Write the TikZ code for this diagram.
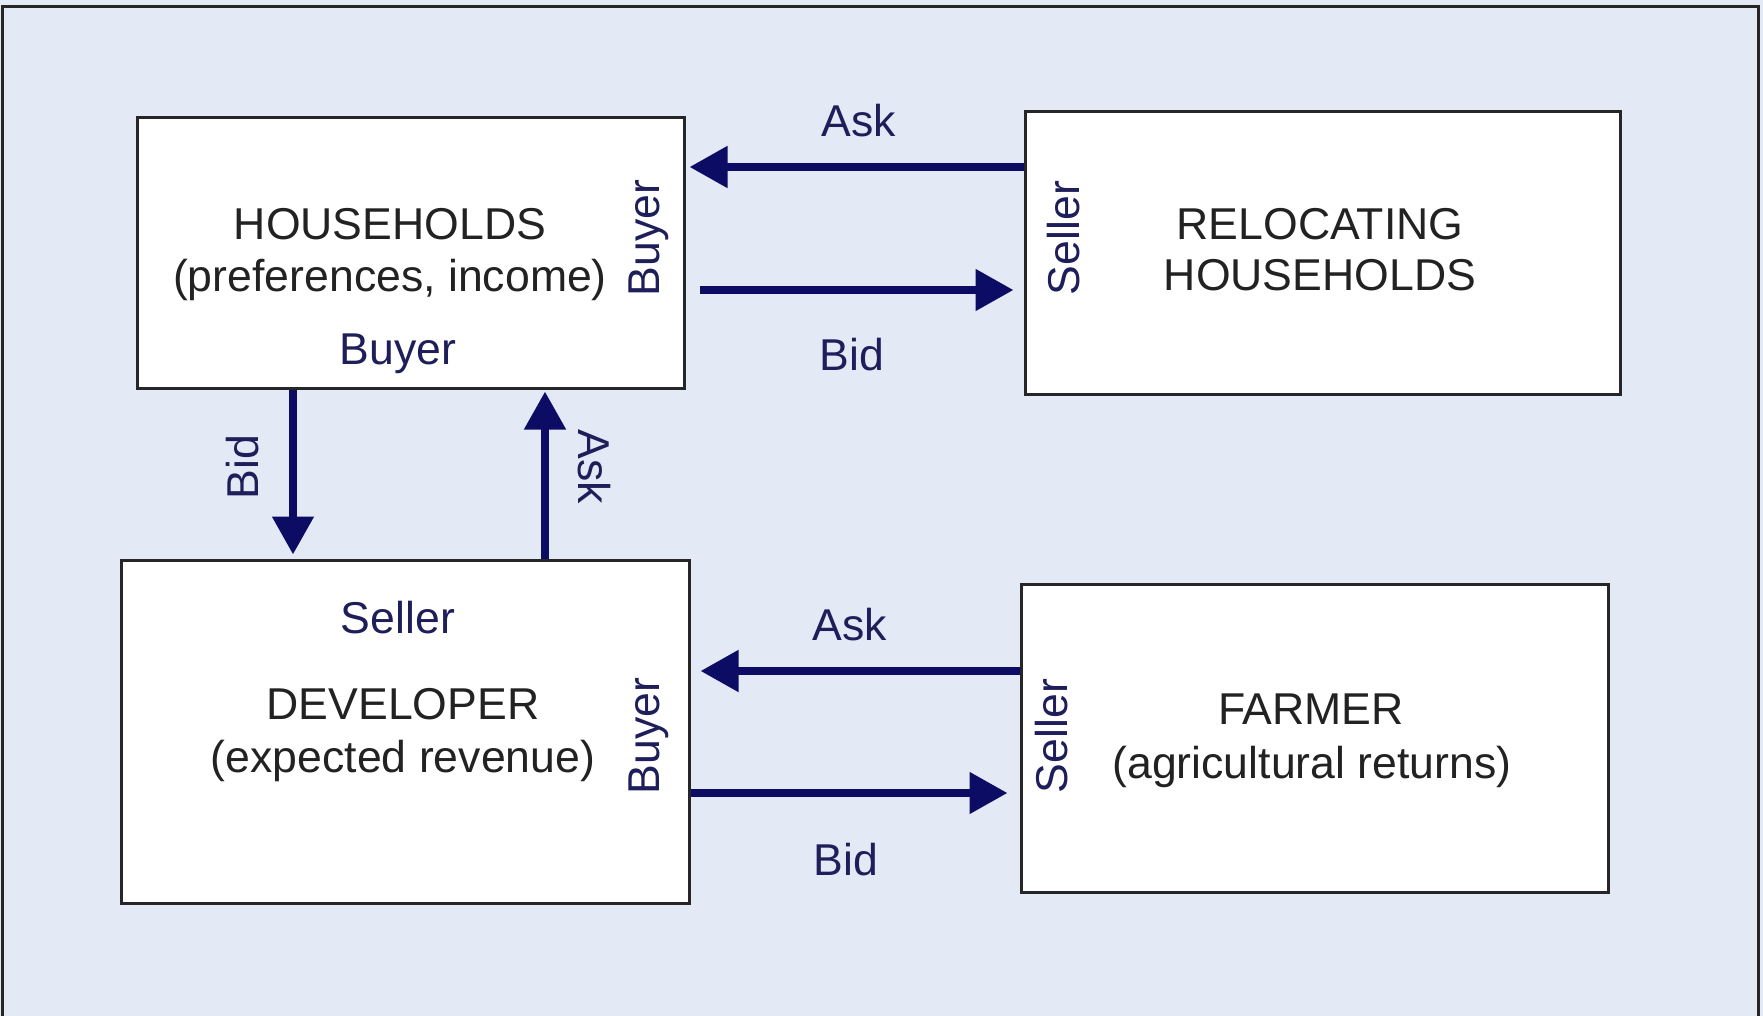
\documentclass[tikz,border=0pt]{standalone}
\usepackage{fontspec}
\setmainfont{Liberation Sans}
\usetikzlibrary{arrows.meta}
\definecolor{bgblue}{RGB}{228,233,246}
\definecolor{navy}{RGB}{12,12,100}
\definecolor{labnavy}{RGB}{30,30,90}
\definecolor{boxtext}{RGB}{34,34,34}
\begin{document}
\begin{tikzpicture}[x=1pt,y=-1pt,
  box/.style={draw=black!85,line width=3pt,fill=white,inner sep=0pt},
  main/.style={text=boxtext,font=\fontsize{44.6}{52}\selectfont,inner sep=0pt},
  lab/.style={text=labnavy,font=\fontsize{44.6}{52}\selectfont,inner sep=0pt},
  arr/.style={draw=navy,line width=8pt,-{Triangle[length=38pt,width=40pt]}}]
\useasboundingbox (0,0) rectangle (1763,1016);
\fill[bgblue] (0,0) rectangle (1763,1016);
\draw[black!85,line width=3pt] (2,1016) -- (2,7) -- (1758,7) -- (1758,1016);
% boxes
\node[box,minimum width=547pt,minimum height=270pt] (hh) at (410.5,253) {};
\node[box,minimum width=595pt,minimum height=282pt] (rel) at (1322.5,253) {};
\node[box,minimum width=568pt,minimum height=343pt] (dev) at (405,731.5) {};
\node[box,minimum width=587pt,minimum height=308pt] (farm) at (1314.5,738) {};
% texts
\node[main] (t1) at (390,224) {HOUSEHOLDS};
\node[main] (t2) at (390,280) {(preferences, income)};
\node[lab] (t3) at (398,354) {Buyer};
\node[lab,rotate=90] (t4) at (649,238) {Buyer};
\node[lab,rotate=90] (t5) at (1064,238) {Seller};
\node[main] (t6) at (1320,224) {RELOCATING};
\node[main] (t7) at (1320,275) {HOUSEHOLDS};
\node[lab] (t8) at (398,618) {Seller};
\node[main] (t9) at (403,704) {DEVELOPER};
\node[main] (t10) at (403,761) {(expected revenue)};
\node[lab,rotate=90] (t11) at (649,736) {Buyer};
\node[lab,rotate=90] (t12) at (1052,736) {Seller};
\node[main] (t13) at (1311,709) {FARMER};
\node[main] (t14) at (1312,767) {(agricultural returns)};
% arrow labels
\node[lab] (l1) at (859,121) {Ask};
\node[lab] (l2) at (852,355) {Bid};
\node[lab,rotate=90] (l3) at (243,467) {Bid};
\node[lab,rotate=-90] (l4) at (594,467) {Ask};
\node[lab] (l5) at (850,625) {Ask};
\node[lab] (l6) at (846,860) {Bid};
% connectors
\draw[arr] (rel.west |- 0,167) -- ([xshift=4pt]hh.east |- 0,167);
\draw[arr] ([xshift=14pt]hh.east |- 0,290) -- ([xshift=-10pt]rel.west |- 0,290);
\draw[arr] (hh.south -| 293,0) -- ([yshift=4pt]dev.north -| 293,0);
\draw[arr] (dev.north -| 545,0) -- ([yshift=-2pt]hh.south -| 545,0);
\draw[arr] (farm.west |- 0,671) -- ([xshift=10pt]dev.east |- 0,671);
\draw[arr] (dev.east |- 0,793) -- ([xshift=-12pt]farm.west |- 0,793);
\end{tikzpicture}
\end{document}
